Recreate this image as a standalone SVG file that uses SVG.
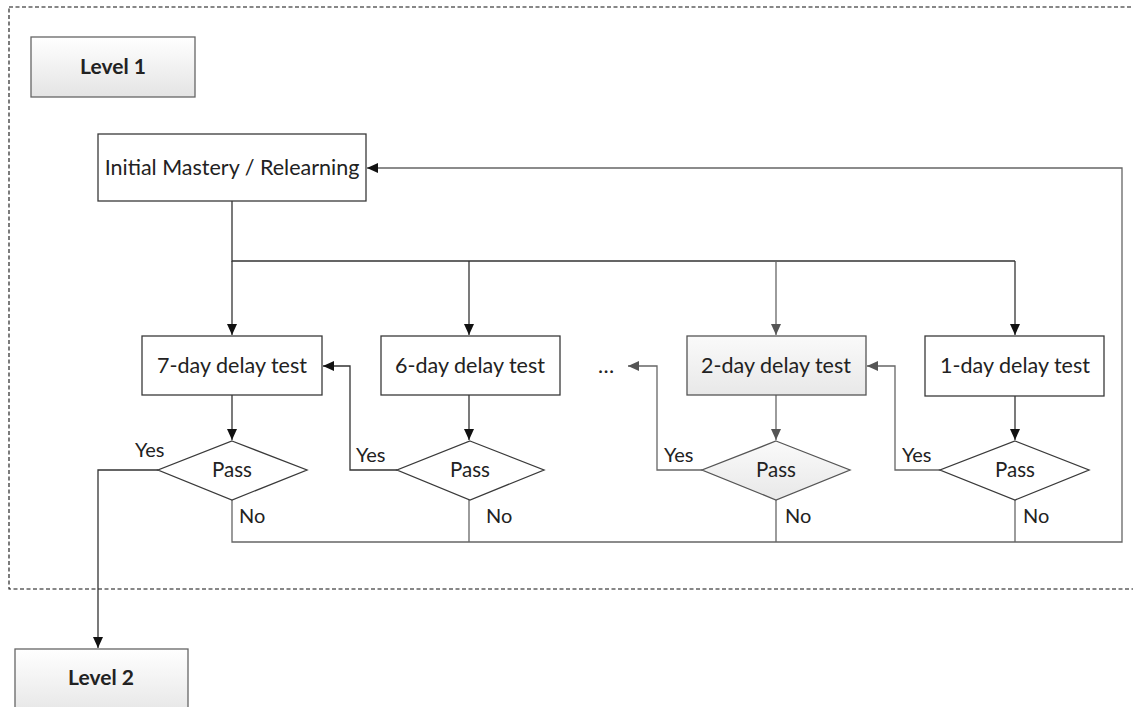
<svg xmlns="http://www.w3.org/2000/svg" width="1133" height="707" viewBox="0 0 1133 707">
<defs>
<linearGradient id="g" x1="0" y1="0" x2="0" y2="1"><stop offset="0" stop-color="#ffffff"/><stop offset="1" stop-color="#e4e4e4"/></linearGradient>
<linearGradient id="g2" x1="0" y1="0" x2="0" y2="1"><stop offset="0" stop-color="#fafafa"/><stop offset="1" stop-color="#e8e8e8"/></linearGradient>
<marker id="a" markerUnits="userSpaceOnUse" markerWidth="12" markerHeight="10" refX="11" refY="5" orient="auto"><path d="M0,0 L11,5 L0,10 z" fill="#111"/></marker>
<marker id="ag" markerUnits="userSpaceOnUse" markerWidth="12" markerHeight="10" refX="11" refY="5" orient="auto"><path d="M0,0 L11,5 L0,10 z" fill="#555"/></marker>
</defs>
<style>
.b{fill:#fff;stroke:#3a3a3a;stroke-width:1.3}
.gb{fill:url(#g2);stroke:#555;stroke-width:1.3}
.lv{fill:url(#g);stroke:#666;stroke-width:1.3}
.t{font-family:Lato,"Liberation Sans",sans-serif;font-size:21.5px;fill:#222;text-anchor:middle}
.p{font-family:Lato,"Liberation Sans",sans-serif;font-size:20.5px;fill:#222;text-anchor:middle}
.s{font-family:Lato,"Liberation Sans",sans-serif;font-size:20px;fill:#222}
.bold{font-family:Lato,"Liberation Sans",sans-serif;font-size:21px;font-weight:bold;fill:#222;text-anchor:middle}
.c{fill:none;stroke:#333;stroke-width:1.3}
.cg{fill:none;stroke:#666;stroke-width:1.3}
</style>
<rect x="9" y="7" width="1140" height="582" fill="none" stroke="#111" stroke-width="1.1" stroke-dasharray="4,2.5"/>
<g id="connectors">
<path class="c" d="M232,201 V261 H1015"/>
<path class="c" d="M232,261 V335" marker-end="url(#a)"/>
<path class="c" d="M469,261 V335" marker-end="url(#a)"/>
<path class="cg" d="M776,261 V335" marker-end="url(#ag)"/>
<path class="c" d="M1015,261 V335" marker-end="url(#a)"/>
<path class="c" d="M232,395 V440" marker-end="url(#a)"/>
<path class="c" d="M469,395 V440" marker-end="url(#a)"/>
<path class="cg" d="M776,395 V440" marker-end="url(#ag)"/>
<path class="c" d="M1015,396 V440" marker-end="url(#a)"/>
<path class="c" d="M158,470 H98 V648" marker-end="url(#a)"/>
<path class="c" d="M397,470 H350 V366 H323" marker-end="url(#a)"/>
<path class="cg" d="M702,470 H657 V366 H628" marker-end="url(#ag)"/>
<path class="cg" d="M940,470 H895 V366 H867" marker-end="url(#ag)"/>
<path class="cg" d="M232,500 V542 H1122 V168 H367" marker-end="url(#a)"/>
<path class="cg" d="M469,500 V542"/>
<path class="cg" d="M776,500 V542"/>
<path class="cg" d="M1015,500 V542"/>
</g>
<g id="level1"><rect class="lv" x="31" y="37" width="164" height="60"/><text class="bold" x="113" y="74">Level 1</text></g>
<g id="initial"><rect class="b" x="98" y="134" width="268" height="67"/><text class="t" x="232" y="175">Initial Mastery / Relearning</text></g>
<g id="t7"><rect class="b" x="142" y="336" width="180" height="59"/><text class="t" x="232" y="373">7-day delay test</text></g>
<g id="t6"><rect class="b" x="381" y="336" width="179" height="59"/><text class="t" x="470" y="373">6-day delay test</text></g>
<g id="dots"><text class="t" x="606" y="373">…</text></g>
<g id="t2"><rect class="gb" x="687" y="336" width="179" height="59"/><text class="t" x="776" y="373">2-day delay test</text></g>
<g id="t1"><rect class="b" x="925" y="336" width="179" height="60"/><text class="t" x="1015" y="373">1-day delay test</text></g>
<g id="d7"><polygon class="b" points="232,441 307,470 232,500 158,470"/><text class="p" x="232" y="477">Pass</text><text class="s" x="135" y="457">Yes</text><text class="s" x="239" y="523">No</text></g>
<g id="d6"><polygon class="b" points="470,441 544,470 470,500 397,470"/><text class="p" x="470" y="477">Pass</text><text class="s" x="356" y="462">Yes</text><text class="s" x="486" y="523">No</text></g>
<g id="d2"><polygon class="gb" points="776,441 850,470 776,500 702,470"/><text class="p" x="776" y="477">Pass</text><text class="s" x="664" y="462">Yes</text><text class="s" x="785" y="523">No</text></g>
<g id="d1"><polygon class="b" points="1015,441 1089,470 1015,500 940,470"/><text class="p" x="1015" y="477">Pass</text><text class="s" x="902" y="462">Yes</text><text class="s" x="1023" y="523">No</text></g>
<g id="level2"><rect class="lv" x="15" y="649" width="173" height="70"/><text class="bold" x="101" y="685">Level 2</text></g>
</svg>
